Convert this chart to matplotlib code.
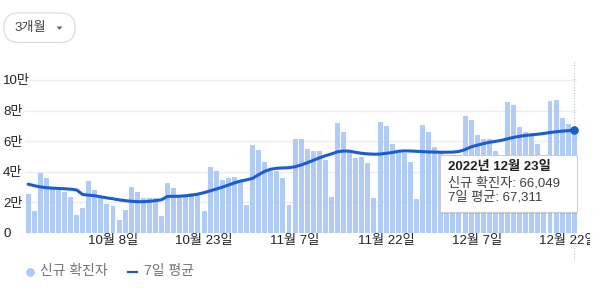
import numpy as np
import matplotlib
matplotlib.use('Agg')
import matplotlib.pyplot as plt
import pandas as pd
from matplotlib.patches import FancyBboxPatch, Rectangle, Polygon
from matplotlib.transforms import Bbox

plt.rcParams['font.family'] = ['Liberation Sans', 'Noto Sans CJK KR']

# ---------------- data ----------------
dates = pd.date_range('2022-09-24', '2022-12-23', freq='D')
new_cases = [25500, 13900, 38800, 35700, 30000, 30000, 26600, 23200, 11900, 16100,
             34100, 28200, 23000, 19000, 17400, 8600, 15000, 30000, 26400, 23000,
             22400, 22500, 11000, 32700, 29000, 24000, 23200, 26200, 25800, 14000,
             43200, 40400, 34800, 35500, 36800, 34200, 17900, 57700, 54000, 46500,
             40600, 40200, 35900, 18400, 61400, 61600, 54700, 53600, 53400, 47800,
             23400, 72000, 65700, 53000, 48600, 49700, 45600, 22700, 72200, 69600,
             58400, 52500, 52000, 46500, 22000, 70600, 66200, 56200, 52800, 50600,
             47000, 25700, 76600, 73500, 64300, 61500, 61500, 53400, 26000, 85800,
             83500, 69200, 66000, 65000, 58000, 26500, 86500, 87200, 75000, 70900,
             66049]
avg7 = [31800, 30800, 30000, 29500, 29200, 29000, 28800, 28500, 28000, 25000,
        24600, 24200, 23500, 22800, 22200, 21500, 21000, 20600, 20300, 20300,
        20600, 21000, 21600, 23800, 23800, 23900, 24200, 24600, 25300, 26200,
        27400, 28600, 29800, 31200, 32600, 33800, 34600, 35600, 38000, 40200,
        41600, 42200, 42400, 42600, 43200, 44400, 45800, 47400, 49000, 50400,
        51600, 53000, 53500, 53400, 52600, 52000, 51600, 51400, 51500, 52000,
        52500, 53300, 53600, 53500, 53300, 53100, 52900, 52800, 52700, 52700,
        52800, 53200, 54400, 56200, 57300, 58300, 59200, 59800, 60500, 61500,
        62400, 63100, 63700, 64100, 64500, 65000, 65600, 66100, 66500, 66800,
        67311]
tick_dates = ['2022-10-08', '2022-10-23', '2022-11-07', '2022-11-22', '2022-12-07', '2022-12-22']
tick_labels = ['10월 8일', '10월 23일', '11월 7일', '11월 22일', '12월 7일', '12월 22일']
y_ticks = [0, 20000, 40000, 60000, 80000, 100000]
y_labels = ['0', '2만', '4만', '6만', '8만', '10만']
tooltip_title = '2022년 12월 23일'
tooltip_lines = ['신규 확진자: 66,049', '7일 평균: 67,311']
legend_labels = ['신규 확진자', '7일 평균']
range_label = '3개월'

# ---------------- style ----------------
W, H = 609, 291
BAR_C = '#aecbfa'
LINE_C = '#1a5dd0'
GRID_C = '#ececec'
TXT_C = '#222222'
LEG_C = '#70757a'

fig = plt.figure(figsize=(W / 100, H / 100), dpi=100)

def fx(px):
    return px / W

def fy(py):
    return 1 - py / H

ax_left, ax_right = 25.0, 577.3
ax_top, ax_bottom = 60.0, 232.7
ax = fig.add_axes([fx(ax_left), fy(ax_bottom), (ax_right - ax_left) / W, (ax_bottom - ax_top) / H])

x = np.arange(1, len(dates) + 1)
ax.bar(x, new_cases, width=0.82, color=BAR_C, zorder=2, linewidth=0)
ax.plot(x, avg7, color=LINE_C, lw=2.2, zorder=4, solid_capstyle='round')
ax.plot(x[-1], avg7[-1], 'o', ms=5.2, color=LINE_C, zorder=5, clip_on=False)

ymax = (ax_bottom - ax_top) / (ax_bottom - 80.0) * 100000
ax.set_ylim(0, ymax)
ax.set_xlim(0.5, len(dates) + 0.5)

for s in ax.spines.values():
    s.set_visible(False)

ax.set_yticks(y_ticks, y_labels)
ax.tick_params(axis='y', length=0, pad=22 * 72 / 100, labelsize=9.5, labelcolor=TXT_C)
for lbl in ax.get_yticklabels():
    lbl.set_ha('left')
ax.grid(axis='y', color=GRID_C, lw=1, zorder=0)
ax.set_axisbelow(True)

date_index = {d.strftime('%Y-%m-%d'): i + 1 for i, d in enumerate(dates)}
ax.set_xticks([date_index[d] for d in tick_dates], tick_labels)
ax.tick_params(axis='x', length=0, pad=1.5, labelsize=9.5, labelcolor=TXT_C)
for lbl in ax.get_xticklabels():
    lbl.set_clip_box(Bbox([[0, 0], [590, H]]))
    lbl.set_clip_on(True)

# vertical hover line
ax.axvline(x[-1], ymin=-0.16, ymax=1.0, color='#bdbdbd', lw=0.8, ls=(0, (1, 1.5)),
           zorder=1, clip_on=False)

# overlay axes in pixel coordinates (origin top-left)
ov = fig.add_axes([0, 0, 1, 1], zorder=10)
ov.set_xlim(0, W)
ov.set_ylim(H, 0)
ov.axis('off')
ov.patch.set_alpha(0)

# tooltip
bx0, bx1, by0, by1 = 440, 577, 155, 212
ov.add_patch(Rectangle((bx0 + 1, by0 + 1.5), bx1 - bx0, by1 - by0,
                       facecolor='#00000014', edgecolor='none'))
ov.add_patch(Rectangle((bx0, by0), bx1 - bx0, by1 - by0,
                       facecolor='white', edgecolor='#cccccc', lw=0.8))
ov.text(448, 167, tooltip_title, fontsize=9.5, fontweight='bold', color='#202124',
        va='center', ha='left')
ov.text(448, 183, tooltip_lines[0], fontsize=9.5, color='#3c4043', va='center', ha='left')
ov.text(448, 197.5, tooltip_lines[1], fontsize=9.5, color='#3c4043', va='center', ha='left')

# range button (pill)
ov.add_patch(FancyBboxPatch((4, 13), 71, 29.5,
                            boxstyle='round,pad=0,rounding_size=14.5',
                            facecolor='white', edgecolor='#dadce0', lw=0.9))
ov.text(14, 28, range_label, fontsize=9.5, color='#3c4043', va='center', ha='left')
ov.add_patch(Polygon([[56.5, 26.5], [62.5, 26.5], [59.5, 29.8]], closed=True,
                     facecolor='#5f6368', edgecolor='none'))

# legend
ov.plot([30], [271.5], marker='o', ms=5.5, color=BAR_C,
        markeredgecolor='#9bb8ee', markeredgewidth=0.5)
ov.text(40, 271.5, legend_labels[0], fontsize=10, color=LEG_C, va='center', ha='left')
ov.plot([128, 137], [271.5, 271.5], color=LINE_C, lw=1.6)
ov.text(144, 271.5, legend_labels[1], fontsize=10, color=LEG_C, va='center', ha='left')

fig.savefig('out.png', dpi=100)
